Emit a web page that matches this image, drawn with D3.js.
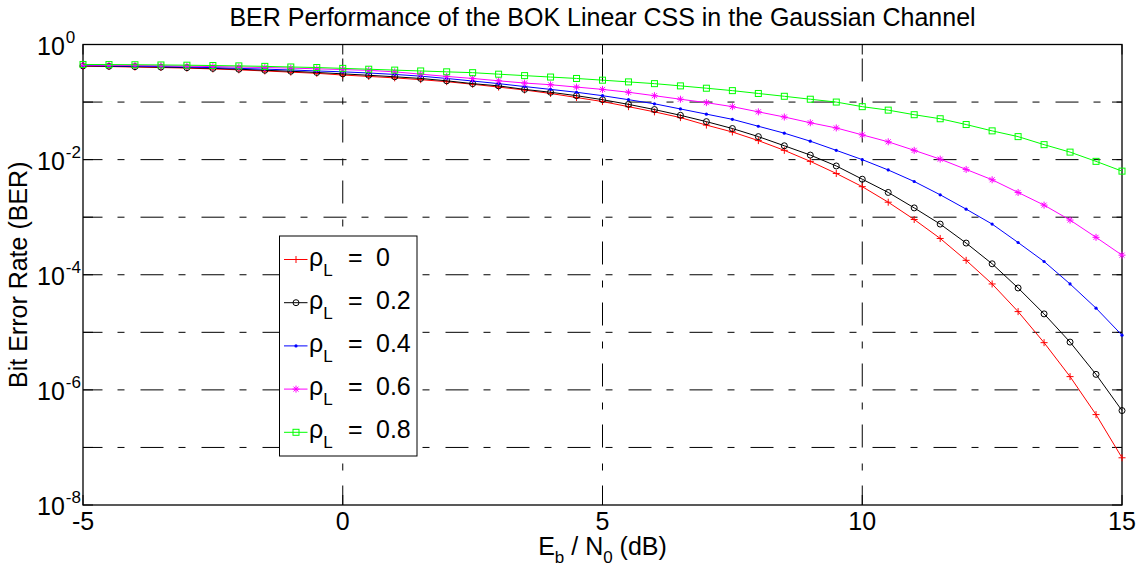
<!DOCTYPE html>
<html>
<head>
<meta charset="utf-8">
<script src="https://cdn.jsdelivr.net/npm/d3@7"></script>
<style>
  body { margin: 0; background: #fff; }
  svg text { font-family: "Liberation Sans", Arial, Helvetica, sans-serif; fill: #000; }
</style>
</head>
<body>
<div id="chart"></div>
<script>
// Eb/N0 grid (dB), one point every 0.5 dB
const ebno = d3.range(-5, 15.01, 0.5);

// BER values
const berRho0 = [0.420, 0.414, 0.406, 0.398, 0.389, 0.376, 0.363, 0.347, 0.331, 0.316,
  0.295, 0.279, 0.263, 0.245, 0.226, 0.204, 0.182, 0.162, 0.141, 0.120,
  0.102, 0.0832, 0.0676, 0.0537, 0.0398, 0.0302, 0.0214, 0.0145, 0.00933, 0.00575,
  0.00339, 0.00182, 9.12e-4, 4.27e-4, 1.78e-4, 6.92e-5, 2.29e-5, 6.61e-6, 1.70e-6, 3.72e-7,
  6.61e-8];
const berRho02 = [0.425, 0.419, 0.412, 0.405, 0.396, 0.385, 0.372, 0.357, 0.343, 0.327,
  0.309, 0.292, 0.275, 0.257, 0.234, 0.209, 0.191, 0.166, 0.148, 0.129,
  0.110, 0.0912, 0.0741, 0.0589, 0.0457, 0.0347, 0.0251, 0.0174, 0.0120, 0.00776,
  0.00457, 0.00269, 0.00145, 7.59e-4, 3.55e-4, 1.55e-4, 5.89e-5, 2.09e-5, 6.76e-6, 1.86e-6,
  4.37e-7];
const berRho04 = [0.431, 0.426, 0.420, 0.413, 0.406, 0.396, 0.385, 0.373, 0.361, 0.347,
  0.335, 0.320, 0.302, 0.282, 0.257, 0.232, 0.209, 0.186, 0.166, 0.148,
  0.129, 0.110, 0.0933, 0.0759, 0.0617, 0.0501, 0.0380, 0.0288, 0.0209, 0.0145,
  0.0100, 0.00661, 0.00417, 0.00245, 0.00138, 7.59e-4, 3.63e-4, 1.70e-4, 6.92e-5, 2.63e-5,
  8.91e-6];
const berRho06 = [0.439, 0.435, 0.431, 0.426, 0.420, 0.413, 0.406, 0.398, 0.389, 0.378,
  0.367, 0.355, 0.335, 0.305, 0.279, 0.257, 0.234, 0.214, 0.200, 0.182,
  0.166, 0.148, 0.129, 0.112, 0.0977, 0.0832, 0.0676, 0.0550, 0.0437, 0.0355,
  0.0269, 0.0204, 0.0145, 0.0102, 0.00676, 0.00447, 0.00269, 0.00162, 8.91e-4, 4.47e-4,
  2.19e-4];
const berRho08 = [0.450, 0.448, 0.445, 0.441, 0.437, 0.431, 0.425, 0.417, 0.407, 0.398,
  0.385, 0.372, 0.359, 0.347, 0.335, 0.324, 0.305, 0.288, 0.272, 0.257,
  0.240, 0.224, 0.209, 0.191, 0.174, 0.158, 0.141, 0.126, 0.112, 0.100,
  0.0832, 0.0724, 0.0603, 0.0513, 0.0407, 0.0316, 0.0251, 0.0182, 0.0135, 0.00933,
  0.00631];

const rhoLabels = ["0", "0.2", "0.4", "0.6", "0.8"];
const xTicks = [-5, 0, 5, 10, 15];
const yExponents = [0, -1, -2, -3, -4, -5, -6, -7, -8];
const yLabelExponents = [0, -2, -4, -6, -8];

const series = [
  { label: rhoLabels[0], values: berRho0, color: "#ff0000", marker: "plus" },
  { label: rhoLabels[1], values: berRho02, color: "#000000", marker: "circle" },
  { label: rhoLabels[2], values: berRho04, color: "#0000ff", marker: "dot" },
  { label: rhoLabels[3], values: berRho06, color: "#ff00ff", marker: "star" },
  { label: rhoLabels[4], values: berRho08, color: "#00ff00", marker: "square" }
];

const WIDTH = 1147;
const HEIGHT = 569;
const MARGIN = { left: 83, right: 25, top: 44.5, bottom: 64 };
const FONT = 25;
const SUB = 17;

const svg = d3.select("#chart").append("svg")
  .attr("width", WIDTH)
  .attr("height", HEIGHT);

const x = d3.scaleLinear()
  .domain([-5, 15])
  .range([MARGIN.left, WIDTH - MARGIN.right]);

const y = d3.scaleLog()
  .domain([1e-8, 1])
  .range([HEIGHT - MARGIN.bottom, MARGIN.top]);

const pLeft = x.range()[0], pRight = x.range()[1];
const pTop = y.range()[1], pBottom = y.range()[0];

// grid (dash-dot like matlab)
const gridDash = "23,15,7,16";
svg.append("g").attr("class", "grid")
  .selectAll("line")
  .data(yExponents.filter(e => e > -8 && e < 0))
  .enter().append("line")
  .attr("x1", pLeft).attr("x2", pRight)
  .attr("y1", e => y(Math.pow(10, e))).attr("y2", e => y(Math.pow(10, e)))
  .attr("stroke", "#000").attr("stroke-width", 1)
  .attr("stroke-dasharray", gridDash)
  .attr("stroke-dashoffset", 3.5);

svg.append("g").attr("class", "grid")
  .selectAll("line")
  .data(xTicks.filter(t => t > -5 && t < 15))
  .enter().append("line")
  .attr("x1", d => x(d)).attr("x2", d => x(d))
  .attr("y1", pBottom).attr("y2", pTop)
  .attr("stroke", "#000").attr("stroke-width", 1)
  .attr("stroke-dasharray", gridDash)
  .attr("stroke-dashoffset", 3.5);

// inward ticks on all four sides
const tickLen = 10;
const ticks = svg.append("g").attr("stroke", "#000").attr("stroke-width", 1);
xTicks.forEach(t => {
  ticks.append("line").attr("x1", x(t)).attr("x2", x(t)).attr("y1", pBottom).attr("y2", pBottom - tickLen);
  ticks.append("line").attr("x1", x(t)).attr("x2", x(t)).attr("y1", pTop).attr("y2", pTop + tickLen);
});
yExponents.forEach(e => {
  const yy = y(Math.pow(10, e));
  ticks.append("line").attr("x1", pLeft).attr("x2", pLeft + tickLen).attr("y1", yy).attr("y2", yy);
  ticks.append("line").attr("x1", pRight).attr("x2", pRight - tickLen).attr("y1", yy).attr("y2", yy);
});

// axes box
svg.append("rect")
  .attr("x", pLeft).attr("y", pTop)
  .attr("width", pRight - pLeft).attr("height", pBottom - pTop)
  .attr("fill", "none").attr("stroke", "#000").attr("stroke-width", 1.3);

// x tick labels
svg.append("g").selectAll("text")
  .data(xTicks)
  .enter().append("text")
  .attr("x", d => x(d))
  .attr("y", pBottom + 25)
  .attr("text-anchor", "middle")
  .attr("font-size", FONT)
  .text(d => d);

// y tick labels 10^n
const yLab = svg.append("g").selectAll("text")
  .data(yLabelExponents)
  .enter().append("text")
  .attr("x", 37)
  .attr("y", e => y(Math.pow(10, e)) + 10)
  .attr("font-size", FONT);
yLab.append("tspan").text("10");
yLab.append("tspan")
  .attr("dx", 1)
  .attr("dy", -12)
  .attr("font-size", SUB)
  .text(e => e === 0 ? "0" : "-" + Math.abs(e));

// title
svg.append("text")
  .attr("x", (pLeft + pRight) / 2)
  .attr("y", 26)
  .attr("text-anchor", "middle")
  .attr("font-size", FONT)
  .text("BER Performance of the BOK Linear CSS in the Gaussian Channel");

// x label
const xl = svg.append("text")
  .attr("x", (pLeft + pRight) / 2)
  .attr("y", 555)
  .attr("text-anchor", "middle")
  .attr("font-size", FONT);
xl.append("tspan").text("E");
xl.append("tspan").attr("dy", 8).attr("font-size", SUB).text("b");
xl.append("tspan").attr("dy", -8).text(" / N");
xl.append("tspan").attr("dy", 8).attr("font-size", SUB).text("0");
xl.append("tspan").attr("dy", -8).text(" (dB)");

// y label
svg.append("text")
  .attr("transform", `translate(27, ${(pTop + pBottom) / 2}) rotate(-90)`)
  .attr("text-anchor", "middle")
  .attr("font-size", FONT)
  .text("Bit Error Rate (BER)");

// marker drawing
function drawMarker(g, type, color) {
  if (type === "plus") {
    g.append("path").attr("d", "M-3.5,0H3.5M0,-3.5V3.5")
      .attr("stroke", color).attr("stroke-width", 1).attr("fill", "none");
  } else if (type === "circle") {
    g.append("circle").attr("r", 3)
      .attr("stroke", color).attr("stroke-width", 1).attr("fill", "none");
  } else if (type === "dot") {
    g.append("circle").attr("r", 1.6).attr("fill", color);
  } else if (type === "star") {
    g.append("path").attr("d", "M-3.5,0H3.5M0,-3.5V3.5M-2.5,-2.5L2.5,2.5M-2.5,2.5L2.5,-2.5")
      .attr("stroke", color).attr("stroke-width", 1).attr("fill", "none");
  } else if (type === "square") {
    g.append("rect").attr("x", -3).attr("y", -3).attr("width", 6).attr("height", 6)
      .attr("stroke", color).attr("stroke-width", 1).attr("fill", "none");
  }
}

const line = d3.line()
  .x((d, i) => x(ebno[i]))
  .y(d => y(d));

const plot = svg.append("g");
series.forEach(s => {
  plot.append("path")
    .attr("d", line(s.values))
    .attr("fill", "none")
    .attr("stroke", s.color)
    .attr("stroke-width", 1);
  plot.append("g").selectAll("g")
    .data(s.values)
    .enter().append("g")
    .attr("transform", (d, i) => `translate(${x(ebno[i])},${y(d)})`)
    .each(function() { drawMarker(d3.select(this), s.marker, s.color); });
});

// legend
const lgX = 279.5, lgY = 236, lgW = 137.5, lgH = 220;
const legend = svg.append("g");
legend.append("rect")
  .attr("x", lgX).attr("y", lgY).attr("width", lgW).attr("height", lgH)
  .attr("fill", "#fff").attr("stroke", "#000").attr("stroke-width", 1);
series.forEach((s, i) => {
  const cy = 259.5 + i * 43.2;
  legend.append("line")
    .attr("x1", 284).attr("x2", 307.5).attr("y1", cy).attr("y2", cy)
    .attr("stroke", s.color).attr("stroke-width", 1);
  drawMarker(legend.append("g").attr("transform", `translate(296,${cy})`), s.marker, s.color);
  const t = legend.append("text")
    .attr("x", 309)
    .attr("y", cy + 6)
    .attr("font-size", FONT);
  t.append("tspan").text("\u03c1");
  t.append("tspan").attr("dy", 10).attr("font-size", SUB).text("L");
  t.append("tspan").attr("x", 348).attr("dy", -10).text("=");
  t.append("tspan").attr("x", 376).text(s.label);
});
</script>
</body>
</html>
